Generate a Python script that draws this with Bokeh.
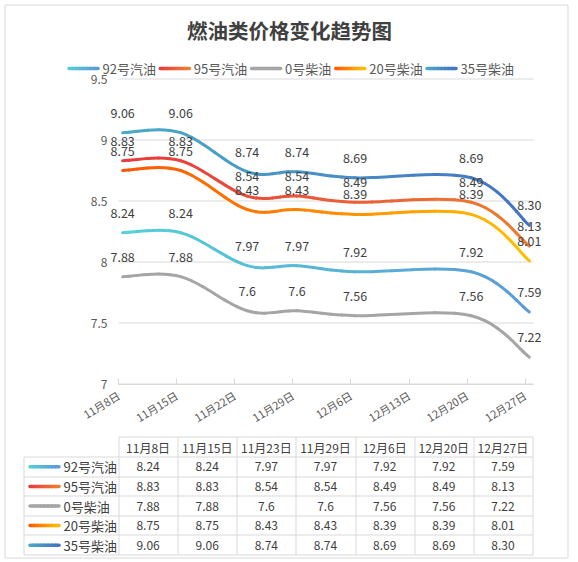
from datetime import date

import numpy as np
from bokeh.core.properties import value
from bokeh.embed import file_html
from bokeh.models import ColumnDataSource, FixedTicker, Range1d
from bokeh.plotting import figure
from bokeh.resources import INLINE

# ---------------------------------------------------------------- data
chart_title = "燃油类价格变化趋势图"

price_dates = ["11月8日", "11月15日", "11月23日", "11月29日", "12月6日", "12月20日", "12月27日"]
price_month_day = [(11, 8), (11, 15), (11, 23), (11, 29), (12, 6), (12, 20), (12, 27)]

axis_month_day = [(11, 8), (11, 15), (11, 22), (11, 29), (12, 6), (12, 13), (12, 20), (12, 27)]
axis_labels = ["11月8日", "11月15日", "11月22日", "11月29日", "12月6日", "12月13日", "12月20日", "12月27日"]

fuel_names = ["92号汽油", "95号汽油", "0号柴油", "20号柴油", "35号柴油"]
gasoline_92 = ["8.24", "8.24", "7.97", "7.97", "7.92", "7.92", "7.59"]
gasoline_95 = ["8.83", "8.83", "8.54", "8.54", "8.49", "8.49", "8.13"]
diesel_0 = ["7.88", "7.88", "7.6", "7.6", "7.56", "7.56", "7.22"]
diesel_20 = ["8.75", "8.75", "8.43", "8.43", "8.39", "8.39", "8.01"]
diesel_35 = ["9.06", "9.06", "8.74", "8.74", "8.69", "8.69", "8.30"]
fuel_prices = [gasoline_92, gasoline_95, diesel_0, diesel_20, diesel_35]

y_ticks = [7, 7.5, 8, 8.5, 9, 9.5]
y_tick_labels = ["7", "7.5", "8", "8.5", "9", "9.5"]

# ---------------------------------------------------------------- style
FONT = "Noto Sans CJK SC"
DARK = "#404040"
MID = "#595959"
RULE = "#D9D9D9"
line_colors = [
    ("#55D0D8", "#5B9BD5"),
    ("#E8383D", "#ED7D31"),
    ("#A5A5A5", "#A5A5A5"),
    ("#FF5500", "#FFC000"),
    ("#4BACC6", "#4472C4"),
]

CANVAS_W, CANVAS_H = 578, 562
BOX_L, BOX_R, BOX_T, BOX_B = 4.5, 567.5, 4.5, 557.5   # outer frame of the chart

# where the date axis starts/ends and where the value axis sits (canvas pixels)
AXIS_L, AXIS_R = 118, 533
AXIS_Y = 383.5
PX_PER_UNIT = 122.0

# x is measured in days from the first axis date; each price sits in the middle of its day
YEAR = 2021
origin = date(YEAR, *axis_month_day[0])


def day_number(md):
    return (date(YEAR, *md) - origin).days


axis_days = [day_number(md) for md in axis_month_day]
price_x = [day_number(md) + 0.5 for md in price_month_day]
AXIS_END = axis_days[-1] + 1
PX_PER_DAY = (AXIS_R - AXIS_L) / AXIS_END
Y_BASE = y_ticks[0]


def px_x(px):
    """canvas x pixel -> day coordinate"""
    return (px - AXIS_L) / PX_PER_DAY


def px_y(py):
    """canvas y pixel -> price coordinate"""
    return Y_BASE + (AXIS_Y - py) / PX_PER_UNIT


def mix(c0, c1, f):
    a = [int(c0[i:i + 2], 16) for i in (1, 3, 5)]
    b = [int(c1[i:i + 2], 16) for i in (1, 3, 5)]
    return "#%02x%02x%02x" % tuple(int(round(a[k] + (b[k] - a[k]) * f)) for k in range(3))


def split(P, t):
    p0, p1, p2, p3 = P
    a = p0 + (p1 - p0) * t
    b = p1 + (p2 - p1) * t
    c = p2 + (p3 - p2) * t
    d = a + (b - a) * t
    e = b + (c - b) * t
    f = d + (e - d) * t
    return (p0, a, d, f), (f, e, c, p3)


def sub_curve(P, t0, t1):
    left, _ = split(P, t1)
    if t0 == 0:
        return left
    _, right = split(left, t0 / t1)
    return right


def smooth_pieces(xs, ys, n_sub=6):
    """Cubic Bezier segments through the points (Catmull-Rom tangents), cut into short pieces."""
    pts = [np.array([x, y], float) for x, y in zip(xs, ys)]
    n = len(pts)
    out = []
    for i in range(n - 1):
        p0, p3 = pts[i], pts[i + 1]
        prev = pts[max(i - 1, 0)]
        nxt = pts[min(i + 2, n - 1)]
        c1 = p0 + (p3 - prev) / 6
        c2 = p3 - (nxt - p0) / 6
        for k in range(n_sub):
            out.append(sub_curve((p0, c1, c2, p3), k / n_sub, (k + 1) / n_sub))
    return out


def text_width(s, size):
    return sum(size if ord(ch) > 255 else 0.55 * size for ch in s)


# ---------------------------------------------------------------- figure (frame = whole canvas)
p = figure(
    width=CANVAS_W, height=CANVAS_H,
    x_range=Range1d(px_x(0), px_x(CANVAS_W)),
    y_range=Range1d(px_y(CANVAS_H), px_y(0)),
    output_backend="svg", toolbar_location=None, tools="",
    min_border=0, outline_line_color=None,
    background_fill_color="white", border_fill_color="white",
)
p.grid.visible = False

xa = p.xaxis[0]
xa.fixed_location = Y_BASE
xa.ticker = FixedTicker(ticks=axis_days)
xa.bounds = (0, AXIS_END)
xa.major_label_overrides = {d: lab for d, lab in zip(axis_days, axis_labels)}
xa.major_label_orientation = 0.55
xa.axis_line_color = RULE
xa.major_tick_line_color = RULE
xa.major_tick_in = 6
xa.major_tick_out = 0
xa.minor_tick_line_color = None
xa.major_label_standoff = 10
xa.major_label_text_font = FONT
xa.major_label_text_font_size = "11px"
xa.major_label_text_color = MID

ya = p.yaxis[0]
ya.fixed_location = 0
ya.ticker = FixedTicker(ticks=y_ticks)
ya.major_label_overrides = {t: lab for t, lab in zip(y_ticks, y_tick_labels)}
ya.axis_line_color = None
ya.major_tick_line_color = None
ya.minor_tick_line_color = None
ya.major_label_standoff = 5
ya.major_label_text_font = FONT
ya.major_label_text_font_size = "12px"
ya.major_label_text_color = MID

# horizontal value rules across the date axis
p.segment(x0=[0] * len(y_ticks), x1=[AXIS_END] * len(y_ticks), y0=y_ticks, y1=y_ticks,
          line_color=RULE, line_width=1, level="underlay")

# smoothed price lines, coloured as a left-to-right gradient
for prices, (c_start, c_end) in zip(fuel_prices, line_colors):
    ys = [float(s) for s in prices]
    cols = {k: [] for k in ("x0", "y0", "x1", "y1", "cx0", "cy0", "cx1", "cy1", "color")}
    x_first, x_last = price_x[0], price_x[-1]
    for a, b, c, d in smooth_pieces(price_x, ys):
        cols["x0"].append(a[0]); cols["y0"].append(a[1])
        cols["cx0"].append(b[0]); cols["cy0"].append(b[1])
        cols["cx1"].append(c[0]); cols["cy1"].append(c[1])
        cols["x1"].append(d[0]); cols["y1"].append(d[1])
        f = ((a[0] + d[0]) / 2 - x_first) / (x_last - x_first)
        cols["color"].append(mix(c_start, c_end, f))
    p.bezier(x0="x0", y0="y0", x1="x1", y1="y1", cx0="cx0", cy0="cy0", cx1="cx1", cy1="cy1",
             source=ColumnDataSource(cols), line_color="color", line_width=3, line_cap="round")

# value labels above every point
for prices in fuel_prices:
    p.text(x=price_x, y=[float(s) for s in prices], text=prices,
           y_offset=-20, text_align="center", text_baseline="middle",
           text_font=value(FONT), text_font_size="12.5px", text_color=DARK)

# ---------------------------------------------------------------- title and legend
p.text(x=[px_x(CANVAS_W / 2)], y=[px_y(29.5)], text=[chart_title], text_align="center",
       text_baseline="middle", text_font=value(FONT), text_font_size="20.5px",
       text_font_style="bold", text_color=DARK)

LEG_Y, SW_LEN, N_GRAD = 68, 32, 8
lx = 67
for name, (c_start, c_end) in zip(fuel_names, line_colors):
    gx = [px_x(lx + 1.5 + (SW_LEN - 3) * k / N_GRAD) for k in range(N_GRAD + 1)]
    p.segment(x0=gx[:-1], y0=[px_y(LEG_Y)] * N_GRAD, x1=gx[1:], y1=[px_y(LEG_Y)] * N_GRAD,
              line_color=[mix(c_start, c_end, (k + 0.5) / N_GRAD) for k in range(N_GRAD)],
              line_width=3.5, line_cap="round")
    p.text(x=[px_x(lx + SW_LEN + 3)], y=[px_y(LEG_Y)], text=[name], text_align="left",
           text_baseline="middle", text_font=value(FONT), text_font_size="13px",
           text_color=MID)
    lx += SW_LEN + 3 + text_width(name, 13) + 3

# ---------------------------------------------------------------- data table under the chart
n_cols = len(price_dates)
COL_L, COL_R = 118, 532
col_edges = [COL_L + k * (COL_R - COL_L) / n_cols for k in range(n_cols + 1)]
col_mid = [(col_edges[k] + col_edges[k + 1]) / 2 for k in range(n_cols)]
HEAD_T, HEAD_B, ROW_H, NAME_L = 436, 456, 19.6, 23
row_edges = [HEAD_B + r * ROW_H for r in range(len(fuel_names) + 1)]
row_mid = [(row_edges[r] + row_edges[r + 1]) / 2 for r in range(len(fuel_names))]

sx0, sy0, sx1, sy1 = [], [], [], []


def seg(a, b, c, d):
    sx0.append(px_x(a)); sy0.append(px_y(b)); sx1.append(px_x(c)); sy1.append(px_y(d))


bottom_y = round(row_edges[-1]) + 0.5
seg(round(COL_L) + 0.5, HEAD_T + 0.5, round(COL_R) + 0.5, HEAD_T + 0.5)
for ry in row_edges:
    y = round(ry) + 0.5
    seg(NAME_L + 0.5, y, round(COL_R) + 0.5, y)
seg(NAME_L + 0.5, HEAD_B + 0.5, NAME_L + 0.5, bottom_y)
for cx in col_edges:
    x = round(cx) + 0.5
    seg(x, HEAD_T + 0.5, x, bottom_y)
# outer frame
seg(BOX_L, BOX_T, BOX_R, BOX_T)
seg(BOX_L, BOX_B, BOX_R, BOX_B)
seg(BOX_L, BOX_T, BOX_L, BOX_B)
seg(BOX_R, BOX_T, BOX_R, BOX_B)
p.segment(x0=sx0, y0=sy0, x1=sx1, y1=sy1, line_color=RULE, line_width=1, level="underlay")

p.text(x=[px_x(c) for c in col_mid], y=[px_y((HEAD_T + HEAD_B) / 2 + 0.5)] * n_cols,
       text=price_dates, text_align="center", text_baseline="middle",
       text_font=value(FONT), text_font_size="12px", text_color=DARK)

for r, (name, prices, (c_start, c_end)) in enumerate(zip(fuel_names, fuel_prices, line_colors)):
    ym = px_y(row_mid[r] + 0.5)
    gx = [px_x(29.5 + 29 * k / N_GRAD) for k in range(N_GRAD + 1)]
    p.segment(x0=gx[:-1], y0=[ym] * N_GRAD, x1=gx[1:], y1=[ym] * N_GRAD,
              line_color=[mix(c_start, c_end, (k + 0.5) / N_GRAD) for k in range(N_GRAD)],
              line_width=3.5, line_cap="round")
    p.text(x=[px_x(63)], y=[ym], text=[name], text_align="left", text_baseline="middle",
           text_font=value(FONT), text_font_size="13px", text_color=DARK)
    p.text(x=[px_x(c) for c in col_mid], y=[ym] * n_cols, text=prices, text_align="center",
           text_baseline="middle", text_font=value(FONT), text_font_size="12px",
           text_color=DARK)

open("out.html", "w").write(file_html(p, INLINE))
